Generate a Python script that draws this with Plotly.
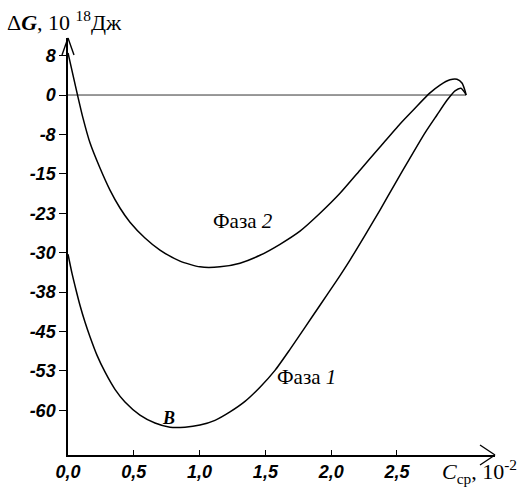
import plotly.graph_objects as go

# Phase 2 (upper curve): C_ср (10^-2) vs ΔG (10^18 Дж)
c_phase2 = [0.000, 0.038, 0.076, 0.114, 0.167, 0.243, 0.319, 0.395, 0.471, 0.585, 0.699,
            0.851, 1.003, 1.155, 1.307, 1.459, 1.611, 1.763, 1.915, 2.067, 2.219, 2.371,
            2.523, 2.637, 2.751, 2.827, 2.903, 2.956, 2.994, 3.020, 3.025]
g_phase2 = [8.0, 3.8, -0.4, -4.4, -9.1, -13.9, -18.1, -21.5, -24.2, -27.2, -29.5,
            -31.6, -32.7, -32.7, -32.0, -30.5, -28.4, -25.9, -22.5, -18.7, -14.3, -9.9,
            -5.5, -2.5, 0.4, 1.9, 2.9, 3.0, 2.3, 0.6, 0.0]

# Phase 1 (lower curve)
c_phase1 = [0.000, 0.030, 0.061, 0.091, 0.129, 0.167, 0.220, 0.281, 0.357, 0.433, 0.547,
            0.661, 0.775, 0.889, 1.003, 1.117, 1.231, 1.345, 1.459, 1.573, 1.687, 1.801,
            1.915, 2.029, 2.143, 2.257, 2.371, 2.485, 2.599, 2.713, 2.804, 2.880, 2.941,
            2.986, 3.017, 3.025]
g_phase1 = [-30.3, -33.9, -37.1, -40.0, -43.2, -46.0, -49.5, -52.7, -56.0, -58.4, -60.9,
            -62.4, -63.2, -63.2, -62.8, -61.9, -60.3, -58.3, -55.6, -52.4, -48.4, -44.2,
            -40.0, -35.8, -31.4, -26.7, -21.9, -16.9, -12.0, -7.2, -3.8, -1.0, 0.8,
            1.3, 0.4, 0.0]

# zero reference line extent
zero_c = [0, 3.025]
zero_g = [0, 0]

x_tick_vals = [0, 0.5, 1.0, 1.5, 2.0, 2.5]
x_tick_text = ["0,0", "0,5", "1,0", "1,5", "2,0", "2,5"]
y_tick_vals = [7.5, 0, -7.5, -15, -22.5, -30, -37.5, -45, -52.5, -60]
y_tick_text = ["8", "0", "-8", "-15", "-23", "-30", "-38", "-45", "-53", "-60"]

W, H = 523, 488
ML, MR, MT, MB = 68, 28, 38, 33
PW, PH = W - ML - MR, H - MT - MB

fig = go.Figure()
fig.add_trace(go.Scatter(x=zero_c, y=zero_g, mode="lines",
                         line=dict(color="#333", width=1), hoverinfo="skip"))
fig.add_trace(go.Scatter(x=c_phase2, y=g_phase2, mode="lines",
                         line=dict(color="black", width=1.5, shape="spline", smoothing=0.6)))
fig.add_trace(go.Scatter(x=c_phase1, y=g_phase1, mode="lines",
                         line=dict(color="black", width=1.5, shape="spline", smoothing=0.6)))

tickfont = dict(family="Liberation Sans", size=18, weight="bold", style="italic", color="black")

fig.update_xaxes(range=[0, 3.245], showline=True, linecolor="black", linewidth=1.5,
                 ticks="inside", ticklen=5, tickcolor="black", tickwidth=1.2,
                 tickvals=x_tick_vals, ticktext=x_tick_text, tickfont=tickfont,
                 showgrid=False, zeroline=False, automargin=False)
fig.update_yaxes(range=[-68.5, 10.85], showline=True, linecolor="black", linewidth=1.5,
                 ticks="outside", ticklen=7, tickcolor="black", tickwidth=1.2,
                 tickvals=y_tick_vals, ticktext=y_tick_text, tickfont=tickfont,
                 showgrid=False, zeroline=False, automargin=False)

serif = dict(family="Liberation Serif", size=22, color="black")
fig.add_annotation(xref="paper", yref="paper", x=-0.148, y=1.04, xanchor="left", yanchor="middle",
                   text="Δ<i><b>G</b></i>, 10 <sup>18</sup>Дж", showarrow=False, font=serif)
fig.add_annotation(xref="paper", yref="paper", x=0.872, y=-0.04, xanchor="left", yanchor="middle",
                   text="<i>C</i><sub>ср</sub>, 10<sup>-2</sup>", showarrow=False, font=serif)
fig.add_annotation(x=1.33, y=-24.0, text="Фаза <i>2</i>", showarrow=False,
                   font=dict(family="Liberation Serif", size=21, color="black"))
fig.add_annotation(x=1.81, y=-53.7, text="Фаза <i>1</i>", showarrow=False,
                   font=dict(family="Liberation Serif", size=21, color="black"))
fig.add_annotation(x=0.767, y=-61.5, text="<b><i>B</i></b>", showarrow=False,
                   font=dict(family="Liberation Serif", size=18, color="black"))

# open arrowheads on the axes (lines in paper coordinates, sized in pixels)
arrow = dict(color="black", width=1.4)
for sx in (-1, 1):
    fig.add_shape(type="line", xref="paper", yref="paper", layer="above",
                  x0=sx * 6 / PW, y0=1 - 17 / PH, x1=0, y1=1, line=arrow)
    fig.add_shape(type="line", xref="paper", yref="paper", layer="above",
                  x0=1 - 15 / PW, y0=sx * 10 / PH, x1=1, y1=0, line=arrow)

fig.update_layout(width=W, height=H, showlegend=False,
                  paper_bgcolor="white", plot_bgcolor="white",
                  margin=dict(l=ML, r=MR, t=MT, b=MB))

fig.write_html("out.html")
